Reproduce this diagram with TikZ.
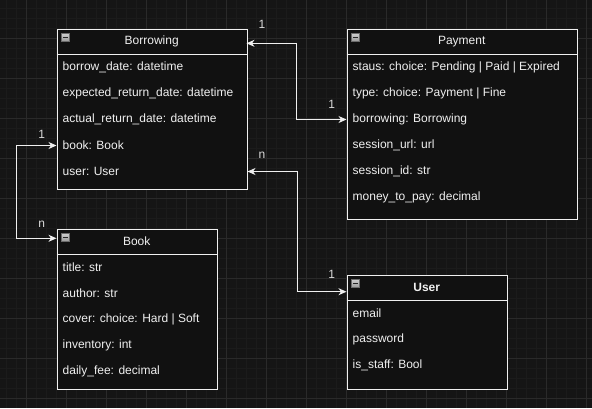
\documentclass[tikz,border=0pt]{standalone}
\usepackage{fontspec}
\setmainfont{Liberation Sans}
\usetikzlibrary{arrows.meta,calc}
\definecolor{bgc}{HTML}{151515}
\definecolor{minorc}{HTML}{1B1B1B}
\definecolor{majorc}{HTML}{2A2A2A}
\definecolor{boxfill}{HTML}{111111}
\definecolor{linec}{HTML}{F0F0F0}
\definecolor{txtc}{HTML}{F0F0F0}
\definecolor{lblc}{HTML}{DADADA}
\definecolor{iconlo}{HTML}{9A9A9A}
\definecolor{iconhi}{HTML}{D0D0D0}
\tikzset{
  minorline/.style={draw=minorc, line width=0.8pt},
  majorline/.style={draw=majorc, line width=1pt},
  umlbox/.style={draw=linec, fill=boxfill, line width=1pt, inner sep=0pt, anchor=north west},
  hdr/.style={inner sep=0pt, anchor=north west, text=txtc, font=\fontsize{12}{14}\selectfont},
  rowtxt/.style={anchor=west, inner xsep=6pt, inner ysep=0pt, minimum height=26pt, text=txtc, font=\fontsize{12}{14}\selectfont},
  sep/.style={draw=linec, line width=1pt},
  conn/.style={draw=linec, line width=1pt, {Stealth[length=8pt,width=7pt,inset=2.5pt]}-{Stealth[length=8pt,width=7pt,inset=2.5pt]}},
  mult/.style={text=lblc, font=\fontsize{12}{14}\selectfont, inner sep=0pt},
  icon/.style={draw=iconlo!70!black, top color=iconhi, bottom color=iconlo, line width=0.6pt}
}
\newcommand{\mkicon}[2]{%
  \draw[icon] (#1+4.5,#2+4.5) rectangle ++(8.5,8.5);
  \draw[draw=black!85, line width=1.2pt] (#1+6.5,#2+8.75) -- ++(4.5,0);
}
\begin{document}
\begin{tikzpicture}[x=1pt,y=-1pt]
\useasboundingbox (0,0) rectangle (592,408);
\fill[bgc] (0,0) rectangle (592,408);
% grid
\foreach \x in {6.5,16.5,...,590} \draw[minorline] (\x,0) -- (\x,408);
\foreach \y in {8.5,18.5,...,406} \draw[minorline] (0,\y) -- (592,\y);
\foreach \x in {26.5,66.5,...,590} \draw[majorline] (\x,0) -- (\x,408);
\foreach \y in {38.5,78.5,...,406} \draw[majorline] (0,\y) -- (592,\y);

% ---------- Borrowing ----------
\node[umlbox, minimum width=190pt, minimum height=160pt] (borrowing) at (56.5,28.5) {};
\node[hdr, minimum width=190pt, minimum height=26pt] (bhdr) at (56.5,28.5) {Borrowing};
\draw[sep] (56.5,54.5) -- (246.5,54.5);
\mkicon{56.5}{28.5}
\node[rowtxt] (b1) at (56.5,67.5) {borrow\_date: datetime};
\node[rowtxt] (b2) at (56.5,93.5) {expected\_return\_date: datetime};
\node[rowtxt] (b3) at (56.5,119.5) {actual\_return\_date: datetime};
\node[rowtxt] (b4) at (56.5,145.5) {book: Book};
\node[rowtxt] (b5) at (56.5,171.5) {user: User};

% ---------- Payment ----------
\node[umlbox, minimum width=230pt, minimum height=190pt] (payment) at (346.5,28.5) {};
\node[hdr, minimum width=230pt, minimum height=26pt] (phdr) at (346.5,28.5) {Payment};
\draw[sep] (346.5,54.5) -- (576.5,54.5);
\mkicon{346.5}{28.5}
\node[rowtxt] (p1) at (346.5,67.5) {staus: choice: Pending | Paid | Expired};
\node[rowtxt] (p2) at (346.5,93.5) {type: choice: Payment | Fine};
\node[rowtxt] (p3) at (346.5,119.5) {borrowing: Borrowing};
\node[rowtxt] (p4) at (346.5,145.5) {session\_url: url};
\node[rowtxt] (p5) at (346.5,171.5) {session\_id: str};
\node[rowtxt] (p6) at (346.5,197.5) {money\_to\_pay: decimal};

% ---------- Book ----------
\node[umlbox, minimum width=160pt, minimum height=160pt] (book) at (56.5,228.5) {};
\node[hdr, minimum width=160pt, minimum height=26pt] (khdr) at (56.5,228.5) {Book};
\draw[sep] (56.5,254.5) -- (216.5,254.5);
\mkicon{56.5}{228.5}
\node[rowtxt] (k1) at (56.5,267.5) {title: str};
\node[rowtxt] (k2) at (56.5,293.5) {author: str};
\node[rowtxt] (k3) at (56.5,319.5) {cover: choice: Hard | Soft};
\node[rowtxt] (k4) at (56.5,345.5) {inventory: int};
\node[rowtxt] (k5) at (56.5,371.5) {daily\_fee: decimal};

% ---------- User ----------
\node[umlbox, minimum width=160pt, minimum height=114pt] (user) at (346.5,274.5) {};
\node[hdr, minimum width=160pt, minimum height=26pt, font=\fontsize{12}{14}\selectfont\bfseries] (uhdr) at (346.5,274.5) {User};
\draw[sep] (346.5,300.5) -- (506.5,300.5);
\mkicon{346.5}{274.5}
\node[rowtxt] (u1) at (346.5,313.5) {email};
\node[rowtxt] (u2) at (346.5,339.5) {password};
\node[rowtxt] (u3) at (346.5,365.5) {is\_staff: Bool};

% connector attachment points
\coordinate (bhin) at (246.5,43.3);
\coordinate (khin) at (56.5,238.3);
\coordinate (uhin) at (346.5,291.7);

% ---------- connectors ----------
\draw[conn] (bhin) -- ++(50,0) |- (p3.west);
\draw[conn] (b4.west) -- ++(-40,0) |- (khin);
\draw[conn] (borrowing.east |- b5) -- ++(50,0) |- (uhin);

% multiplicities
\node[mult] (m1) at (262,24) {1};
\node[mult] (m2) at (331.7,104) {1};
\node[mult] (m3) at (41.7,134) {1};
\node[mult] (m4) at (41.7,224) {n};
\node[mult] (m5) at (262,155) {n};
\node[mult] (m6) at (331.7,274) {1};
\end{tikzpicture}
\end{document}
